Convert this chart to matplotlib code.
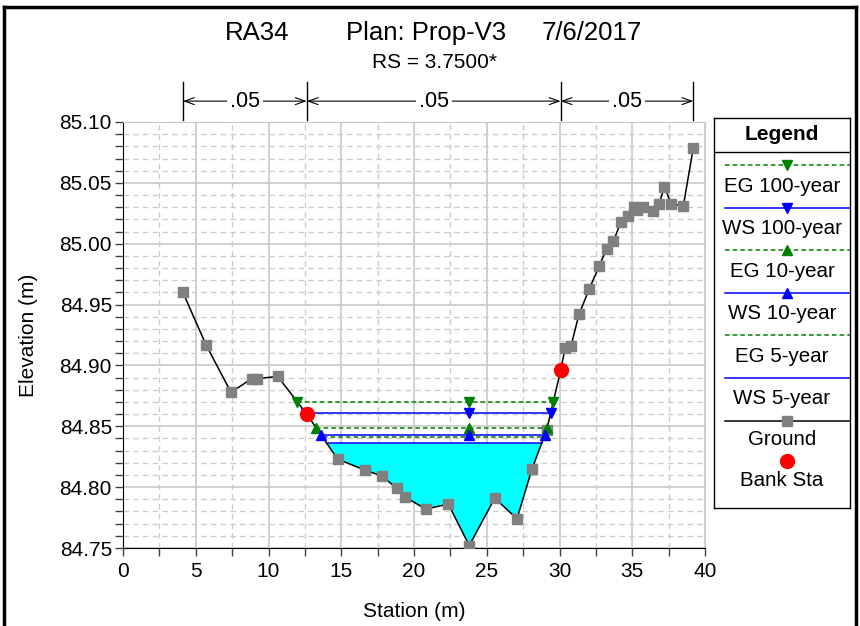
import numpy as np
import matplotlib
matplotlib.use("Agg")
from matplotlib import pyplot as plt
from matplotlib.lines import Line2D
from matplotlib.ticker import MultipleLocator, FormatStrFormatter

plt.rcParams['font.family'] = ['Liberation Sans', 'DejaVu Sans']

# ground profile (station m, elevation m)
ground_sta = [4.12, 5.70, 7.42, 8.84, 9.19, 10.63, 12.63, 14.75, 16.63, 17.82, 18.81, 19.38,
              20.80, 22.36, 23.80, 25.55, 27.08, 28.11, 29.12, 30.08, 30.38, 30.79, 31.34,
              32.05, 32.74, 33.24, 33.70, 34.23, 34.71, 35.12, 35.35, 35.76, 36.40, 36.86,
              37.21, 37.66, 38.51, 39.20]
ground_elev = [84.960, 84.917, 84.878, 84.889, 84.889, 84.891, 84.860, 84.823, 84.814, 84.809,
               84.799, 84.792, 84.782, 84.786, 84.752, 84.791, 84.774, 84.815, 84.847, 84.896,
               84.914, 84.916, 84.942, 84.963, 84.982, 84.996, 85.002, 85.018, 85.023, 85.030,
               85.028, 85.030, 85.027, 85.033, 85.047, 85.033, 85.031, 85.079]
bank_sta = [12.63, 30.08]
bank_elev = [84.860, 84.896]

# water profiles
profile_names = ['EG 100-year', 'WS 100-year', 'EG 10-year', 'WS 10-year', 'EG 5-year', 'WS 5-year']
profile_elev = [84.870, 84.861, 84.849, 84.843, 84.841, 84.836]

# Manning's n regions
n_bounds = [4.12, 12.63, 30.08, 39.20]
n_values = ['.05', '.05', '.05']

title_parts = ['RA34', 'Plan: Prop-V3', '7/6/2017']
subtitle = 'RS = 3.7500*'

sta = np.array(ground_sta)
elev = np.array(ground_elev)


def crossing(level):
    i0 = int(np.argmin(elev))
    i = i0
    while elev[i] < level:
        i -= 1
    xl = np.interp(level, [elev[i + 1], elev[i]], [sta[i + 1], sta[i]])
    j = i0
    while elev[j] < level:
        j += 1
    xr = np.interp(level, [elev[j - 1], elev[j]], [sta[j - 1], sta[j]])
    return xl, xr, i, j, i0


styles = {
    'EG 100-year': dict(color='green', ls=(0, (3, 2)), marker='v'),
    'WS 100-year': dict(color='blue', ls='-', marker='v'),
    'EG 10-year': dict(color='green', ls=(0, (3, 2)), marker='^'),
    'WS 10-year': dict(color='blue', ls='-', marker='^'),
    'EG 5-year': dict(color='green', ls=(0, (3, 2)), marker=None),
    'WS 5-year': dict(color='blue', ls='-', marker=None),
}

fig = plt.figure(figsize=(8.6, 6.26), dpi=100)
W, H = 860, 626


def fx(px):
    return px / W


def fy(py):
    return 1 - py / H


ax = fig.add_axes([fx(123), fy(548), fx(705) - fx(123), fy(122) - fy(548)])

# water fill under lowest WS
xl, xr, i, j, i0 = crossing(profile_elev[-1])
fx_poly = [xl] + list(sta[i + 1:j]) + [xr]
fy_poly = [profile_elev[-1]] + list(elev[i + 1:j]) + [profile_elev[-1]]
ax.fill(fx_poly, fy_poly, color='#00ffff', zorder=2, lw=0)

for name, lev in zip(profile_names, profile_elev):
    st = styles[name]
    xl, xr, i, j, i0 = crossing(lev)
    ax.plot([xl, xr], [lev, lev], color=st['color'], ls=st['ls'], lw=1.1, zorder=3)
    if st['marker']:
        ax.plot([xl, sta[i0], xr], [lev] * 3, ls='none', marker=st['marker'],
                color=st['color'], ms=7, zorder=5)

ax.plot(sta, elev, color='black', lw=1.1, marker='s', ms=6.5, mfc='#808080', mec='#808080', zorder=4)
ax.plot(bank_sta, bank_elev, ls='none', marker='o', ms=10, color='red', zorder=6)

ax.set_xlim(0, 40)
ax.set_ylim(84.75, 85.10)
ax.xaxis.set_major_locator(MultipleLocator(5))
ax.xaxis.set_minor_locator(MultipleLocator(2.5))
ax.yaxis.set_major_locator(MultipleLocator(0.05))
ax.yaxis.set_minor_locator(MultipleLocator(0.01))
ax.yaxis.set_major_formatter(FormatStrFormatter('%.2f'))
ax.grid(which='major', color='#c8c8c8', lw=1.2, ls='-', zorder=0)
ax.grid(which='minor', color='#cccccc', lw=1.0, ls=(0, (4, 3)), zorder=0)
ax.set_axisbelow(True)
ax.tick_params(which='both', direction='out', length=6, width=1, color='#404040')
ax.tick_params(axis='x', labelsize=15, pad=4)
ax.tick_params(axis='y', labelsize=15, pad=2)
for s in ['top', 'right']:
    ax.spines[s].set_color('#c8c8c8')
for s in ['left', 'bottom']:
    ax.spines[s].set_color('black')
ax.set_xlabel('Station (m)', fontsize=15)
ax.set_ylabel('Elevation (m)', fontsize=15)
ax.xaxis.set_label_coords(0.5, (548 - 602) / 426)
ax.yaxis.set_label_coords((38 - 123) / 582, 0.5)

# n-value annotation above the plot
for b in n_bounds:
    ax.plot([b, b], [1.005, 1.095], transform=ax.get_xaxis_transform(), color='black',
            lw=1, clip_on=False)
for a, b, n in zip(n_bounds[:-1], n_bounds[1:], n_values):
    ax.annotate('', xy=(a, 1.049), xytext=(b, 1.049), xycoords=ax.get_xaxis_transform(),
                arrowprops=dict(arrowstyle='<->, head_length=0.7, head_width=0.25', color='black',
                                lw=0.8, shrinkA=0, shrinkB=0))
    ax.text((a + b) / 2, 1.049, n, transform=ax.get_xaxis_transform(), ha='center', va='center',
            fontsize=15.5, bbox=dict(facecolor='white', edgecolor='none', pad=2))

# titles
for txt, px in zip(title_parts, [257, 426, 592]):
    fig.text(fx(px), fy(33), txt, ha='center', va='center', fontsize=18.5)
fig.text(fx(435), fy(62), subtitle, ha='center', va='center', fontsize=15)

# legend box
lax = fig.add_axes([fx(714), fy(508), fx(850) - fx(714), fy(118) - fy(508)])
lax.set_xlim(714, 850)
lax.set_ylim(508, 118)
lax.set_xticks([])
lax.set_yticks([])
for s in lax.spines.values():
    s.set_color('black')
    s.set_linewidth(1)
lax.text(782, 135, 'Legend', ha='center', va='center', fontsize=15, fontweight='bold')
lax.plot([714, 850], [152, 152], color='black', lw=1)
y0 = 165
for k, name in enumerate(profile_names):
    st = styles[name]
    yy = y0 + 42.6 * k
    lax.plot([725, 850], [yy, yy], color=st['color'], ls=st['ls'], lw=1.1)
    if st['marker']:
        lax.plot([787], [yy], marker=st['marker'], color=st['color'], ms=7)
    lax.text(782, yy + 21, name, ha='center', va='center', fontsize=14.8)
yy = y0 + 42.6 * 6
lax.plot([725, 850], [yy, yy], color='black', lw=1.1)
lax.plot([787], [yy], marker='s', ms=6.5, color='#808080')
lax.text(782, yy + 19, 'Ground', ha='center', va='center', fontsize=14.8)
yy = y0 + 42.6 * 7
lax.plot([787], [yy - 2], marker='o', ms=10, color='red')
lax.text(782, yy + 17, 'Bank Sta', ha='center', va='center', fontsize=14.8)

# outer frame
fig.add_artist(Line2D([fx(4), fx(856)], [fy(7), fy(7)], color='black', lw=2.5))
fig.add_artist(Line2D([fx(4), fx(4)], [fy(7), 0], color='black', lw=2.5))
fig.add_artist(Line2D([fx(856), fx(856)], [fy(7), 0], color='black', lw=2.5))

fig.savefig('out.png', dpi=100)
